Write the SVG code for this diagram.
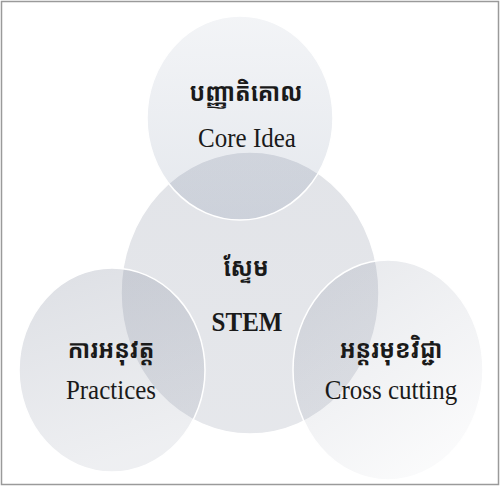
<svg xmlns="http://www.w3.org/2000/svg" width="501" height="487" viewBox="0 0 501 487">
<defs>
<linearGradient id="gTop" x1="0" y1="0" x2="0" y2="1">
<stop offset="0" stop-color="#4f6488" stop-opacity="0.07"/>
<stop offset="1" stop-color="#4f6488" stop-opacity="0.15"/>
</linearGradient>
<linearGradient id="gCenter" x1="0" y1="0" x2="0" y2="1">
<stop offset="0" stop-color="#55607a" stop-opacity="0.17"/>
<stop offset="1" stop-color="#55607a" stop-opacity="0.15"/>
</linearGradient>
<linearGradient id="gLeft" x1="0" y1="0" x2="0.3" y2="1">
<stop offset="0" stop-color="#55607a" stop-opacity="0.2"/>
<stop offset="1" stop-color="#55607a" stop-opacity="0.1"/>
</linearGradient>
<linearGradient id="gRight" x1="0" y1="0" x2="0.6" y2="1">
<stop offset="0" stop-color="#55607a" stop-opacity="0.15"/>
<stop offset="1" stop-color="#55607a" stop-opacity="0.03"/>
</linearGradient>
<style>
.c{stroke:#ffffff;stroke-width:1.5}
.en{font-family:"Liberation Serif","Times New Roman",serif;font-size:25px;fill:#1a1a1a;text-anchor:middle}
.enb{font-family:"Liberation Serif","Times New Roman",serif;font-size:25px;font-weight:bold;fill:#1a1a1a;text-anchor:middle}
.km{font-family:"Noto Sans Khmer","Noto Serif Khmer","Khmer OS","Khmer OS System",sans-serif;font-size:23px;font-weight:bold;fill:#1a1a1a;text-anchor:middle}
</style>
</defs>
<rect x="0" y="0" width="501" height="487" fill="#ffffff"/>
<rect x="1.5" y="1.5" width="497" height="483" fill="none" stroke="#9a9a9a" stroke-width="1.5"/>
<g id="stem">
<ellipse class="c" cx="250" cy="293" rx="129" ry="141" fill="url(#gCenter)"/>
<text class="km" transform="translate(246,276) scale(1,1.1)">ស្ទែម</text>
<text class="enb" transform="translate(247,331) scale(1,1.12)">STEM</text>
</g>
<g id="core-idea">
<ellipse class="c" cx="240" cy="118" rx="93" ry="102" fill="url(#gTop)"/>
<text class="km" transform="translate(246,101) scale(1,1.1)">បញ្ញាតិគោល</text>
<text class="en" transform="translate(247,147) scale(1,1.1)">Core Idea</text>
</g>
<g id="practices">
<ellipse class="c" cx="112" cy="370" rx="93" ry="102" fill="url(#gLeft)"/>
<text class="km" transform="translate(111,358) scale(1,1.1)">ការអនុវត្ត</text>
<text class="en" transform="translate(111,399) scale(1,1.1)">Practices</text>
</g>
<g id="cross-cutting">
<ellipse class="c" cx="388" cy="370" rx="95" ry="110" fill="url(#gRight)"/>
<text class="km" transform="translate(391,358) scale(1,1.1)">អន្តរមុខវិជ្ជា</text>
<text class="en" transform="translate(391,399) scale(1,1.1)">Cross cutting</text>
</g>
<g id="connectors"/>
</svg>
